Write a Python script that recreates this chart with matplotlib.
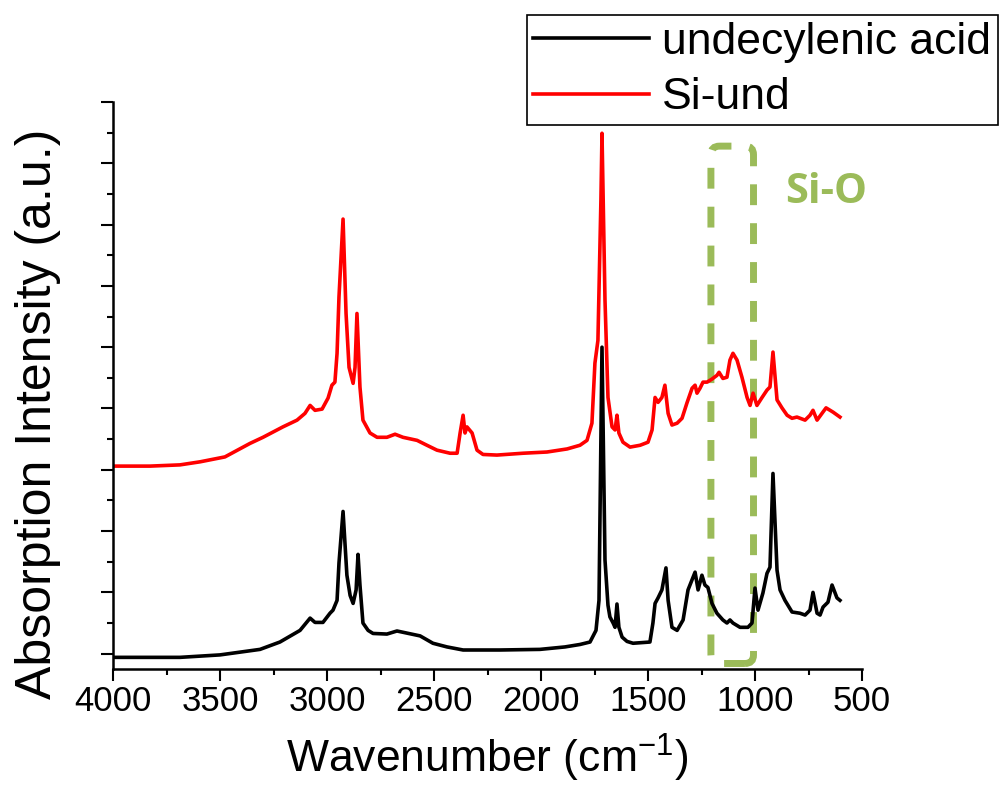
import numpy as np
import matplotlib
matplotlib.use('Agg')
import matplotlib.pyplot as plt
from matplotlib.patches import FancyBboxPatch
from matplotlib.ticker import MultipleLocator

plt.rcParams['font.family'] = ['Liberation Sans', 'DejaVu Sans']

# undecylenic acid spectrum (wavenumber, absorbance in offset units)
acid_wn = [4000, 3687, 3500, 3313, 3220, 3126, 3079, 3056, 3019, 2986, 2972, 2953, 2944, 2925,
           2907, 2892, 2878, 2864, 2855, 2846, 2832, 2808, 2785, 2720, 2673, 2565, 2505, 2439,
           2364, 2192, 2005, 1888, 1818, 1771, 1743, 1729, 1715, 1701, 1687, 1678, 1663, 1654,
           1645, 1636, 1621, 1598, 1570, 1491, 1477, 1467, 1453, 1435, 1416, 1406, 1388, 1364,
           1336, 1313, 1280, 1266, 1248, 1234, 1220, 1201, 1178, 1150, 1131, 1117, 1103, 1070,
           1033, 1014, 1000, 986, 963, 944, 930, 916, 897, 883, 860, 827, 790, 766, 743, 729,
           710, 696, 682, 659, 640, 617, 603]
acid_abs = [-0.06, -0.06, -0.02, 0.07, 0.19, 0.38, 0.58, 0.51, 0.51, 0.66, 0.71, 0.87, 1.48, 2.32,
            1.28, 0.95, 0.82, 1.04, 1.62, 1.12, 0.50, 0.38, 0.33, 0.32, 0.37, 0.29, 0.17, 0.11,
            0.06, 0.06, 0.07, 0.11, 0.15, 0.19, 0.38, 0.87, 5.00, 1.53, 0.79, 0.60, 0.50, 0.43,
            0.81, 0.43, 0.27, 0.20, 0.17, 0.19, 0.50, 0.82, 0.91, 1.04, 1.40, 0.87, 0.43, 0.38,
            0.55, 1.04, 1.33, 1.04, 1.28, 1.12, 1.08, 0.82, 0.66, 0.55, 0.50, 0.55, 0.50, 0.43,
            0.43, 0.50, 1.07, 0.71, 0.99, 1.31, 1.41, 2.94, 1.36, 1.04, 0.87, 0.68, 0.66, 0.63,
            0.71, 1.00, 0.66, 0.63, 0.76, 0.84, 1.12, 0.91, 0.87]

# Si-und spectrum
siund_wn = [4000, 3827, 3687, 3593, 3477, 3360, 3299, 3206, 3140, 3103, 3079, 3056, 3023, 2995,
            2977, 2963, 2953, 2944, 2925, 2911, 2897, 2878, 2869, 2860, 2846, 2832, 2799, 2766,
            2720, 2682, 2645, 2579, 2533, 2486, 2425, 2392, 2378, 2364, 2355, 2346, 2322, 2299,
            2271, 2206, 2084, 1972, 1878, 1818, 1785, 1762, 1748, 1734, 1720, 1715, 1701, 1687,
            1668, 1654, 1645, 1636, 1617, 1584, 1537, 1500, 1481, 1467, 1453, 1435, 1421, 1406,
            1388, 1364, 1341, 1318, 1294, 1280, 1271, 1257, 1243, 1224, 1201, 1178, 1168, 1150,
            1131, 1117, 1103, 1084, 1061, 1037, 1023, 1009, 991, 967, 944, 930, 916, 897, 874,
            850, 827, 804, 766, 743, 729, 710, 687, 668, 649, 635, 603]
siund_abs = [3.06, 3.06, 3.08, 3.13, 3.21, 3.43, 3.53, 3.70, 3.81, 3.92, 4.05, 3.97, 3.99, 4.17,
             4.38, 4.43, 4.90, 5.82, 7.09, 5.55, 4.67, 4.41, 4.67, 5.55, 4.35, 3.81, 3.60, 3.53,
             3.53, 3.58, 3.53, 3.48, 3.40, 3.32, 3.27, 3.27, 3.60, 3.89, 3.60, 3.70, 3.60, 3.32,
             3.25, 3.24, 3.27, 3.29, 3.34, 3.40, 3.48, 3.76, 4.74, 5.11, 7.40, 8.49, 5.77, 4.18,
             3.70, 3.65, 3.89, 3.60, 3.45, 3.37, 3.40, 3.45, 3.65, 4.18, 4.10, 4.18, 4.38, 3.92,
             3.73, 3.76, 3.84, 4.09, 4.33, 4.38, 4.25, 4.33, 4.43, 4.43, 4.48, 4.54, 4.59, 4.49,
             4.51, 4.79, 4.90, 4.79, 4.51, 4.18, 4.05, 4.25, 4.05, 4.18, 4.30, 4.35, 4.92, 4.14, 4.01,
             3.89, 3.84, 3.86, 3.81, 3.89, 3.97, 3.81, 3.92, 4.01, 3.97, 3.94, 3.86]

# Si-O highlight region
sio_wn = [1007, 1206]
sio_abs = [-0.16, 8.28]

green = '#9BBB59'

fig = plt.figure(figsize=(9.99, 7.92), dpi=100)
ax = fig.add_axes([113/999, 1-669/792, 749/999, 567/792])

ax.plot(acid_wn, acid_abs, color='black', lw=2.6, label='undecylenic acid')
ax.plot(siund_wn, siund_abs, color='red', lw=2.6, label='Si-und')

ax.set_xlim(4000, 500)
ax.set_ylim(-0.25, 9.0)
ax.xaxis.set_major_locator(MultipleLocator(500))
ax.xaxis.set_minor_locator(MultipleLocator(250))
ax.yaxis.set_major_locator(MultipleLocator(1))
ax.yaxis.set_minor_locator(MultipleLocator(0.5))
ax.set_yticklabels([])
ax.tick_params(which='major', direction='out', length=8.5, width=1.5, labelsize=25, pad=3)
ax.tick_params(which='minor', direction='out', length=4.5, width=1.5)
for s in ['top', 'right']:
    ax.spines[s].set_visible(False)
for s in ['left', 'bottom']:
    ax.spines[s].set_linewidth(1.8)

ax.set_xlabel('Wavenumber (cm$^{\\mathregular{-1}}$)', fontsize=32, labelpad=10)
ax.set_ylabel('Absorption Intensity (a.u.)', fontsize=36)
ax.yaxis.set_label_coords(-0.07, 0.45)

# dashed rounded box marking the Si-O band
box = FancyBboxPatch((sio_wn[0], sio_abs[0]), sio_wn[1] - sio_wn[0], sio_abs[1] - sio_abs[0],
                     boxstyle='round,pad=0,rounding_size=40', mutation_aspect=0.00349,
                     fill=False, edgecolor=green, lw=5, linestyle=(0, (3.0, 2.6)),
                     clip_on=False)
ax.add_patch(box)
ax.text(668, 7.53, 'Si-O', color=green, fontsize=30, fontweight='bold', family='Open Sans',
        ha='center', va='center')

leg = ax.legend(loc='upper right', bbox_to_anchor=(998/999, 1-15/792),
                bbox_transform=fig.transFigure, fontsize=32, frameon=True, fancybox=False,
                edgecolor='black', framealpha=1, borderaxespad=0, borderpad=0.15,
                handlelength=2.6, handletextpad=0.3, labelspacing=0.33)
leg.get_frame().set_linewidth(1.2)

fig.savefig('out.png', dpi=100)
